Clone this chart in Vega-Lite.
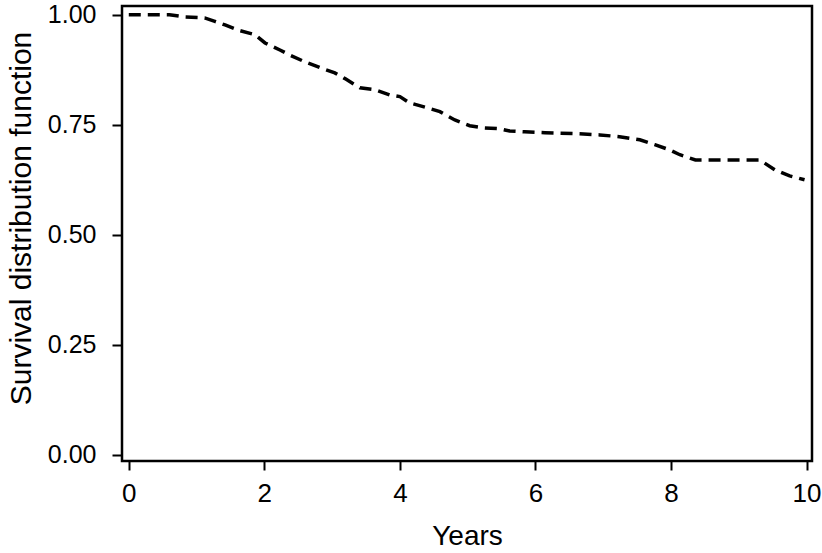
{
  "$schema": "https://vega.github.io/schema/vega-lite/v6.json",
  "autosize": {"type": "none"},
  "padding": {"left": 122, "top": 6, "right": 10, "bottom": 92},
  "width": 690,
  "height": 455,
  "background": "white",
  "config": {
    "view": {"stroke": "black", "strokeWidth": 2.5},
    "font": "Liberation Sans"
  },
  "data": {
    "values": [
      {"years": 0.0, "survival": 1.0},
      {"years": 0.6, "survival": 1.0},
      {"years": 0.83, "survival": 0.995},
      {"years": 1.12, "survival": 0.993},
      {"years": 1.27, "survival": 0.985},
      {"years": 1.42, "survival": 0.977},
      {"years": 1.64, "survival": 0.964},
      {"years": 1.86, "survival": 0.955},
      {"years": 2.01, "survival": 0.936},
      {"years": 2.23, "survival": 0.92},
      {"years": 2.37, "survival": 0.909},
      {"years": 2.6, "survival": 0.893},
      {"years": 2.82, "survival": 0.88},
      {"years": 3.04, "survival": 0.868},
      {"years": 3.19, "survival": 0.855},
      {"years": 3.41, "survival": 0.834},
      {"years": 3.63, "survival": 0.83},
      {"years": 3.85, "survival": 0.818},
      {"years": 4.0, "survival": 0.814},
      {"years": 4.14, "survival": 0.8},
      {"years": 4.37, "survival": 0.79},
      {"years": 4.59, "survival": 0.78},
      {"years": 4.81, "survival": 0.761},
      {"years": 5.03, "survival": 0.748},
      {"years": 5.25, "survival": 0.743},
      {"years": 5.47, "survival": 0.741},
      {"years": 5.62, "survival": 0.736},
      {"years": 5.84, "survival": 0.734},
      {"years": 6.14, "survival": 0.732},
      {"years": 6.58, "survival": 0.73},
      {"years": 6.95, "survival": 0.727},
      {"years": 7.24, "survival": 0.723},
      {"years": 7.54, "survival": 0.716},
      {"years": 7.76, "survival": 0.705},
      {"years": 7.98, "survival": 0.693},
      {"years": 8.13, "survival": 0.682},
      {"years": 8.36, "survival": 0.67},
      {"years": 9.31, "survival": 0.67},
      {"years": 9.53, "survival": 0.648},
      {"years": 9.75, "survival": 0.634},
      {"years": 9.97, "survival": 0.625}
    ]
  },
  "mark": {"type": "line", "color": "black", "strokeWidth": 3.5, "strokeDash": [12, 7], "clip": true},
  "encoding": {
    "x": {
      "field": "years",
      "type": "quantitative",
      "scale": {"domain": [-0.1, 10.08], "nice": false, "zero": false},
      "axis": {
        "values": [0, 2, 4, 6, 8, 10], "format": "d", "title": "Years",
        "grid": false, "domain": false, "tickColor": "black", "tickWidth": 2, "tickSize": 9,
        "labelColor": "black", "labelFontSize": 26, "labelFont": "Liberation Sans", "labelPadding": 10,
        "titleFont": "Liberation Sans", "titleFontSize": 28, "titleFontWeight": "normal", "titleColor": "black", "titlePadding": 16
      }
    },
    "y": {
      "field": "survival",
      "type": "quantitative",
      "scale": {"domain": [-0.014, 1.02], "nice": false, "zero": false},
      "axis": {
        "values": [0, 0.25, 0.5, 0.75, 1], "format": ".2f", "title": "Survival distribution function",
        "grid": false, "domain": false, "tickColor": "black", "tickWidth": 2, "tickSize": 10,
        "labelColor": "black", "labelFontSize": 25, "labelFont": "Liberation Sans", "labelPadding": 16,
        "titleFont": "Liberation Sans", "titleFontSize": 30, "titleFontWeight": "normal", "titleColor": "black", "titlePadding": 11, "titleY": 212
      }
    }
  }
}
